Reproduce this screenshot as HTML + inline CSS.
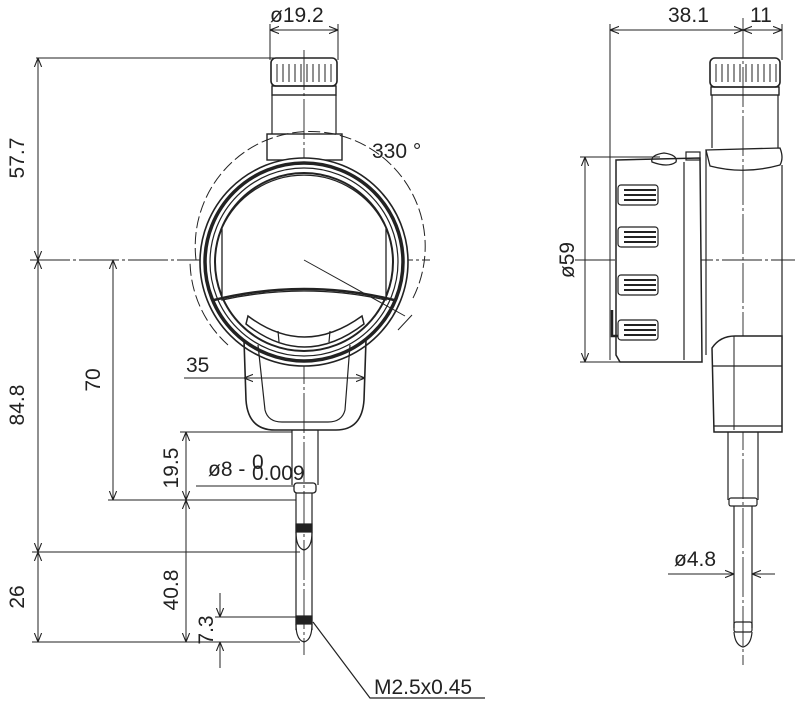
<!DOCTYPE html>
<html><head><meta charset="utf-8"><style>
html,body{margin:0;padding:0;background:#fff;}
svg{display:block}
text{font-family:"Liberation Sans Narrow","Liberation Sans",sans-serif;fill:#222;font-size:21px}
</style></head><body>
<svg width="800" height="702" viewBox="0 0 800 702" xmlns="http://www.w3.org/2000/svg">
<defs>
<marker id="a" viewBox="0 0 10 10" refX="10" refY="5" markerWidth="9" markerHeight="9" orient="auto-start-reverse" markerUnits="userSpaceOnUse"><path d="M0,1 L10,5 L0,9" fill="none" stroke="#222" stroke-width="1.2"/></marker>
</defs>
<g stroke="#222" fill="none" stroke-width="1.2">
<line x1="304" y1="50" x2="304" y2="655" stroke-dasharray="40,3,3,3" stroke-width="0.9"/>
<line x1="30" y1="260" x2="430" y2="260" stroke-dasharray="40,3,3,3" stroke-width="0.9"/>
<rect x="271" y="58" width="66" height="28" rx="5" stroke-width="1.6"/>
<g stroke-width="1">
<line x1="277" y1="64" x2="277" y2="82"/><line x1="283" y1="64" x2="283" y2="82"/><line x1="289" y1="64" x2="289" y2="82"/><line x1="295" y1="64" x2="295" y2="82"/><line x1="301" y1="64" x2="301" y2="82"/><line x1="307" y1="64" x2="307" y2="82"/><line x1="313" y1="64" x2="313" y2="82"/><line x1="319" y1="64" x2="319" y2="82"/><line x1="325" y1="64" x2="325" y2="82"/><line x1="331" y1="64" x2="331" y2="82"/>
</g>
<rect x="272" y="86" width="64" height="9" stroke-width="1.4"/>
<line x1="272" y1="95" x2="272" y2="134"/><line x1="336" y1="95" x2="336" y2="134"/>
<rect x="267" y="134" width="75" height="26" stroke-width="1.4"/>
<circle cx="304" cy="262" r="104" stroke-width="1.6" fill="#fff"/>
<circle cx="304" cy="262" r="99" stroke-width="3.5"/>
<circle cx="304" cy="262" r="94" stroke-width="1.2"/>
<circle cx="304" cy="262" r="89" stroke-width="2"/>
<path d="M196 260 A115 115 0 1 1 412 300" stroke-dasharray="12,4" stroke-width="1"/>
<path d="M228 345 A115 115 0 0 1 190 262" stroke-dasharray="12,4" stroke-width="1"/>
<path d="M222 300 L222 228 A90 90 0 0 1 386 228 L386 300 Q304 282 222 300 Z" stroke-width="1.3" fill="#fff"/>
<path d="M214 300 Q304 278 394 300" stroke-width="2.5"/>
<line x1="304" y1="260" x2="405" y2="316" stroke-width="1"/>
<line x1="398" y1="330" x2="412" y2="315" stroke-width="1"/>
<path d="M248 316 Q304 358 362 316 L364 324 Q304 370 246 324 Z" stroke-width="1.5"/>
<line x1="278" y1="331" x2="279" y2="342"/><line x1="330" y1="331" x2="329" y2="342"/>
<path d="M244 340 L246 400 Q248 430 275 430 L336 430 Q362 430 364 400 L366 340" stroke-width="1.6"/>
<path d="M258 345 L265 410 Q268 422 282 422 L328 422 Q342 422 345 410 L350 345" stroke-width="1.2"/>
<line x1="292" y1="430" x2="292" y2="485"/><line x1="318" y1="430" x2="318" y2="485"/>
<rect x="294" y="483" width="22" height="10" rx="3" stroke-width="1.3"/>
<line x1="296" y1="493" x2="296" y2="630"/><line x1="312" y1="493" x2="312" y2="630"/>
<rect x="296" y="524" width="16" height="8" fill="#222"/>
<path d="M296 532 Q296 548 304 550 Q312 548 312 532"/>
<rect x="296" y="616" width="16" height="8" fill="#222"/>
<path d="M296 624 Q296 640 304 642 Q312 640 312 624"/>
<line x1="36" y1="58" x2="275" y2="58" stroke-width="1"/>
<line x1="38" y1="58" x2="38" y2="260" marker-start="url(#a)" marker-end="url(#a)" stroke-width="1"/>
<line x1="38" y1="260" x2="38" y2="552" marker-start="url(#a)" marker-end="url(#a)" stroke-width="1"/>
<line x1="38" y1="552" x2="38" y2="642" marker-start="url(#a)" marker-end="url(#a)" stroke-width="1"/>
<line x1="32" y1="552" x2="300" y2="552" stroke-width="1"/>
<line x1="32" y1="642" x2="300" y2="642" stroke-width="1"/>
<line x1="113" y1="260" x2="113" y2="500" marker-start="url(#a)" marker-end="url(#a)" stroke-width="1"/>
<line x1="108" y1="500" x2="296" y2="500" stroke-width="1"/>
<line x1="180" y1="432" x2="292" y2="432" stroke-width="1"/>
<line x1="186" y1="432" x2="186" y2="500" marker-start="url(#a)" marker-end="url(#a)" stroke-width="1"/>
<line x1="186" y1="500" x2="186" y2="642" marker-start="url(#a)" marker-end="url(#a)" stroke-width="1"/>
<line x1="196" y1="486" x2="294" y2="486" stroke-width="1"/>
<line x1="220" y1="593" x2="220" y2="617" marker-end="url(#a)" stroke-width="1"/>
<line x1="220" y1="668" x2="220" y2="642" marker-end="url(#a)" stroke-width="1"/>
<line x1="215" y1="617" x2="298" y2="617" stroke-width="1"/>
<line x1="270" y1="24" x2="270" y2="60" stroke-width="1"/><line x1="338" y1="24" x2="338" y2="60" stroke-width="1"/>
<line x1="270" y1="30" x2="338" y2="30" marker-start="url(#a)" marker-end="url(#a)" stroke-width="1"/>
<line x1="184" y1="378" x2="365" y2="378" marker-end="url(#a)" stroke-width="1"/>
<line x1="270" y1="378" x2="244" y2="378" marker-end="url(#a)" stroke-width="1"/>
<polyline points="313,622 370,698 485,698" stroke-width="1.2"/>
<line x1="743" y1="18" x2="743" y2="665" stroke-dasharray="40,3,3,3" stroke-width="0.9"/>
<line x1="575" y1="260" x2="795" y2="260" stroke-dasharray="40,3,3,3" stroke-width="0.9"/>
<rect x="710" y="58" width="70" height="29" rx="5" stroke-width="1.6"/>
<g stroke-width="1">
<line x1="716" y1="64" x2="716" y2="82"/><line x1="722" y1="64" x2="722" y2="82"/><line x1="728" y1="64" x2="728" y2="82"/><line x1="734" y1="64" x2="734" y2="82"/><line x1="740" y1="64" x2="740" y2="82"/><line x1="746" y1="64" x2="746" y2="82"/><line x1="752" y1="64" x2="752" y2="82"/><line x1="758" y1="64" x2="758" y2="82"/><line x1="764" y1="64" x2="764" y2="82"/><line x1="770" y1="64" x2="770" y2="82"/><line x1="776" y1="64" x2="776" y2="82"/>
</g>
<rect x="711" y="87" width="68" height="8" stroke-width="1.4"/>
<line x1="712" y1="95" x2="712" y2="148"/><line x1="778" y1="95" x2="778" y2="148"/>
<path d="M706 150 L780 148 Q784 158 780 165 Q744 175 710 166 Z" stroke-width="1.3"/>
<line x1="706" y1="150" x2="706" y2="355"/><line x1="782" y1="165" x2="782" y2="340"/>
<path d="M616 160 L700 158 L702 362 L620 362 L616 355 Z" stroke-width="1.5" fill="#fff"/>
<line x1="684" y1="162" x2="684" y2="360"/>
<path d="M652 162 Q650 155 664 153 Q678 155 676 162 Q668 168 652 162 Z" stroke-width="1.3"/>
<rect x="686" y="152" width="14" height="8"/>
<path d="M612 310 L612 336 L618 336" stroke-width="2.5"/>
<g stroke-width="1.2">
<rect x="618" y="185" width="40" height="20" rx="3"/><rect x="618" y="227" width="40" height="20" rx="3"/><rect x="618" y="275" width="40" height="20" rx="3"/><rect x="618" y="320" width="40" height="20" rx="3"/>
<path d="M624 190H656M624 195H656M624 200H656M624 232H656M624 237H656M624 242H656M624 280H656M624 285H656M624 290H656M624 325H656M624 330H656M624 335H656" stroke-width="2"/>
</g>
<path d="M712 348 Q720 336 735 336 L782 336 L782 432 L714 432 Z" stroke-width="1.5" fill="#fff"/>
<line x1="712" y1="366" x2="782" y2="366"/><line x1="714" y1="426" x2="782" y2="426"/><line x1="734" y1="336" x2="734" y2="430" stroke-width="1"/>
<line x1="728" y1="432" x2="728" y2="500"/><line x1="758" y1="432" x2="758" y2="500"/>
<rect x="729" y="498" width="28" height="8" rx="2"/>
<line x1="734" y1="506" x2="734" y2="628"/><line x1="752" y1="506" x2="752" y2="628"/>
<rect x="734" y="622" width="18" height="10" rx="2"/>
<path d="M734 632 Q735 645 743 647 Q751 645 752 632"/>
<line x1="610" y1="24" x2="610" y2="360" stroke-width="1"/>
<line x1="782" y1="24" x2="782" y2="60" stroke-width="1"/>
<line x1="610" y1="30" x2="743" y2="30" marker-start="url(#a)" marker-end="url(#a)" stroke-width="1"/>
<line x1="743" y1="30" x2="782" y2="30" marker-start="url(#a)" marker-end="url(#a)" stroke-width="1"/>
<line x1="580" y1="157" x2="660" y2="157" stroke-width="1"/>
<line x1="580" y1="362" x2="640" y2="362" stroke-width="1"/>
<line x1="585" y1="157" x2="585" y2="362" marker-start="url(#a)" marker-end="url(#a)" stroke-width="1"/>
<line x1="668" y1="574" x2="734" y2="574" marker-end="url(#a)" stroke-width="1"/>
<line x1="775" y1="574" x2="752" y2="574" marker-end="url(#a)" stroke-width="1"/>
</g>
<text x="270" y="22">ø19.2</text>
<text x="372" y="158">330 °</text>
<text x="186" y="372">35</text>
<text x="208" y="476">ø8 -</text>
<text x="252" y="469" font-size="11">0</text>
<text x="252" y="480" font-size="11">0.009</text>
<text x="374" y="694">M2.5x0.45</text>
<text x="674" y="566">ø4.8</text>
<text x="668" y="22">38.1</text>
<text x="750" y="22">11</text>
<g>
<text transform="translate(24,158) rotate(-90)" text-anchor="middle">57.7</text>
<text transform="translate(24,405) rotate(-90)" text-anchor="middle">84.8</text>
<text transform="translate(24,597) rotate(-90)" text-anchor="middle">26</text>
<text transform="translate(100,380) rotate(-90)" text-anchor="middle">70</text>
<text transform="translate(178,468) rotate(-90)" text-anchor="middle">19.5</text>
<text transform="translate(178,590) rotate(-90)" text-anchor="middle">40.8</text>
<text transform="translate(213,630) rotate(-90)" text-anchor="middle">7.3</text>
<text transform="translate(574,260) rotate(-90)" text-anchor="middle">ø59</text>
</g>
</svg>
</body></html>
